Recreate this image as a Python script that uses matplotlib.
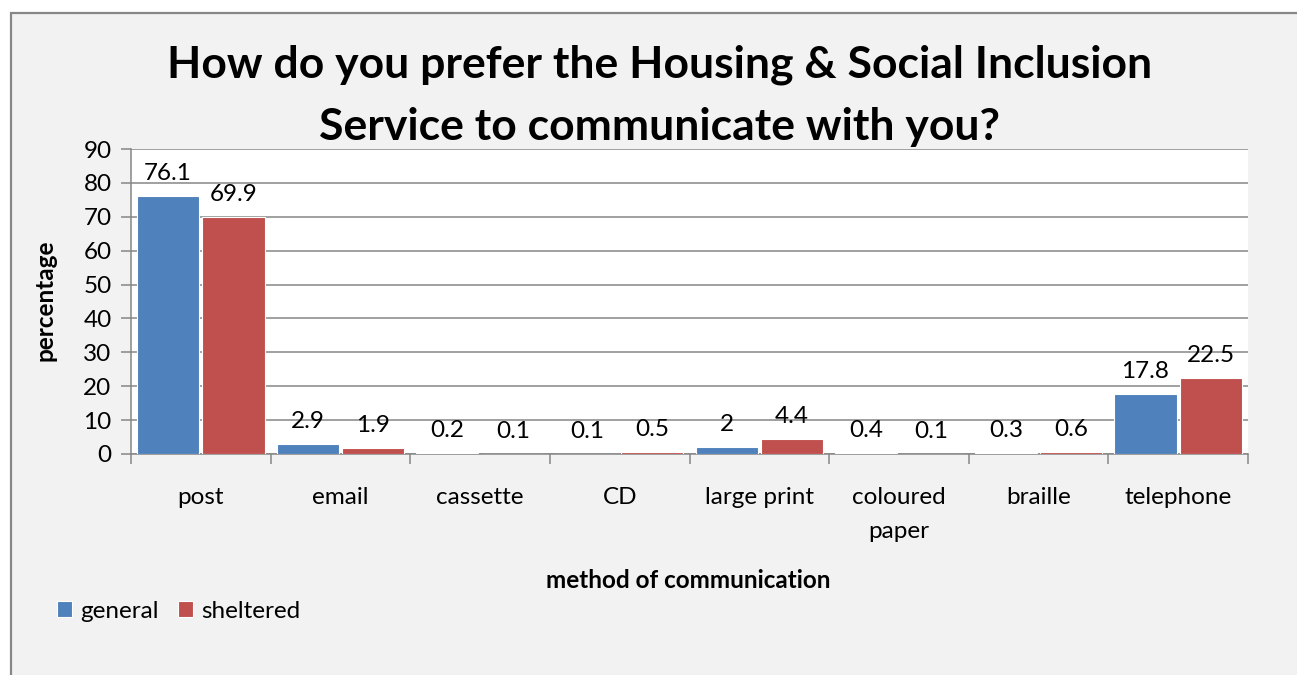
import numpy as np
import matplotlib
matplotlib.use("Agg")
import matplotlib.pyplot as plt
from matplotlib.patches import Rectangle

plt.rcParams['font.family'] = ['Lato', 'DejaVu Sans']

categories = ['post', 'email', 'cassette', 'CD', 'large print', 'coloured\npaper', 'braille', 'telephone']
general = [76.1, 2.9, 0.2, 0.1, 2, 0.4, 0.3, 17.8]
sheltered = [69.9, 1.9, 0.1, 0.5, 4.4, 0.1, 0.6, 22.5]
series_names = ['general', 'sheltered']

blue = '#4F81BD'
red = '#C0504D'
grid_col = '#868686'
fs = 17.5

W, H = 1297, 675
fig = plt.figure(figsize=(W / 100, H / 100), dpi=100, facecolor='white')

# chart area background with border (only left/top visible)
fig.patches.append(Rectangle((11 / W, -0.5), 1.5, 1.5 - 13 / H, transform=fig.transFigure,
                             facecolor='#F2F2F2', edgecolor='#878787', linewidth=1.6, zorder=-10))

ax = fig.add_axes([131 / W, 1 - 454 / H, (1248 - 131) / W, (454 - 149) / H])
ax.set_facecolor('white')

x = np.arange(len(categories))
bw = 0.445
gap = 0.012
b1 = ax.bar(x - bw / 2 - gap, general, bw, color=blue, edgecolor='white', linewidth=0.8,
            label=series_names[0], zorder=3)
b2 = ax.bar(x + bw / 2 + gap, sheltered, bw, color=red, edgecolor='white', linewidth=0.8,
            label=series_names[1], zorder=3)

for bars, vals in ((b1, general), (b2, sheltered)):
    for rect, v in zip(bars, vals):
        ax.annotate('{:g}'.format(v), (rect.get_x() + rect.get_width() / 2, v),
                    xytext=(0, 12), textcoords='offset pixels', ha='center', va='bottom',
                    fontsize=fs, color='black', zorder=5)

ax.set_xlim(-0.5, len(categories) - 0.5)
ax.set_ylim(0, 90)
ax.set_yticks(range(0, 91, 10))
ax.yaxis.grid(True, color=grid_col, linewidth=1.1, zorder=0)
ax.set_axisbelow(True)

ax.set_xticks(x)
ax.set_xticklabels(categories, fontsize=fs, linespacing=1.75)
ax.set_xticks(np.arange(-0.5, len(categories)), minor=True)
ax.tick_params(axis='x', which='major', length=0, pad=24)
ax.tick_params(axis='x', which='minor', length=7, width=1.1, color=grid_col, direction='out')
ax.tick_params(axis='y', length=7, width=1.1, color=grid_col, labelsize=fs, pad=7)

for s in ('top', 'right'):
    ax.spines[s].set_visible(False)
for s in ('left', 'bottom'):
    ax.spines[s].set_color(grid_col)
    ax.spines[s].set_linewidth(1.1)

fig.text(660 / W, 1 - 96 / H, 'How do you prefer the Housing & Social Inclusion\nService to communicate with you?',
         ha='center', va='center', fontsize=32, fontweight='bold', linespacing=1.68)
fig.text(45 / W, 1 - 300 / H, 'percentage', rotation=90, ha='center', va='center',
         fontsize=fs, fontweight='bold')
fig.text(688 / W, 1 - 580 / H, 'method of communication', ha='center', va='center',
         fontsize=fs, fontweight='bold')

fig.legend(handles=[b1, b2], labels=series_names, loc='center left',
           bbox_to_anchor=(57 / W, 1 - 611 / H), ncol=2, frameon=False, fontsize=fs,
           handlelength=0.6, handleheight=0.6, handletextpad=0.35, columnspacing=0.8,
           borderaxespad=0, borderpad=0)

fig.savefig('out.png', dpi=100, facecolor=fig.get_facecolor())
